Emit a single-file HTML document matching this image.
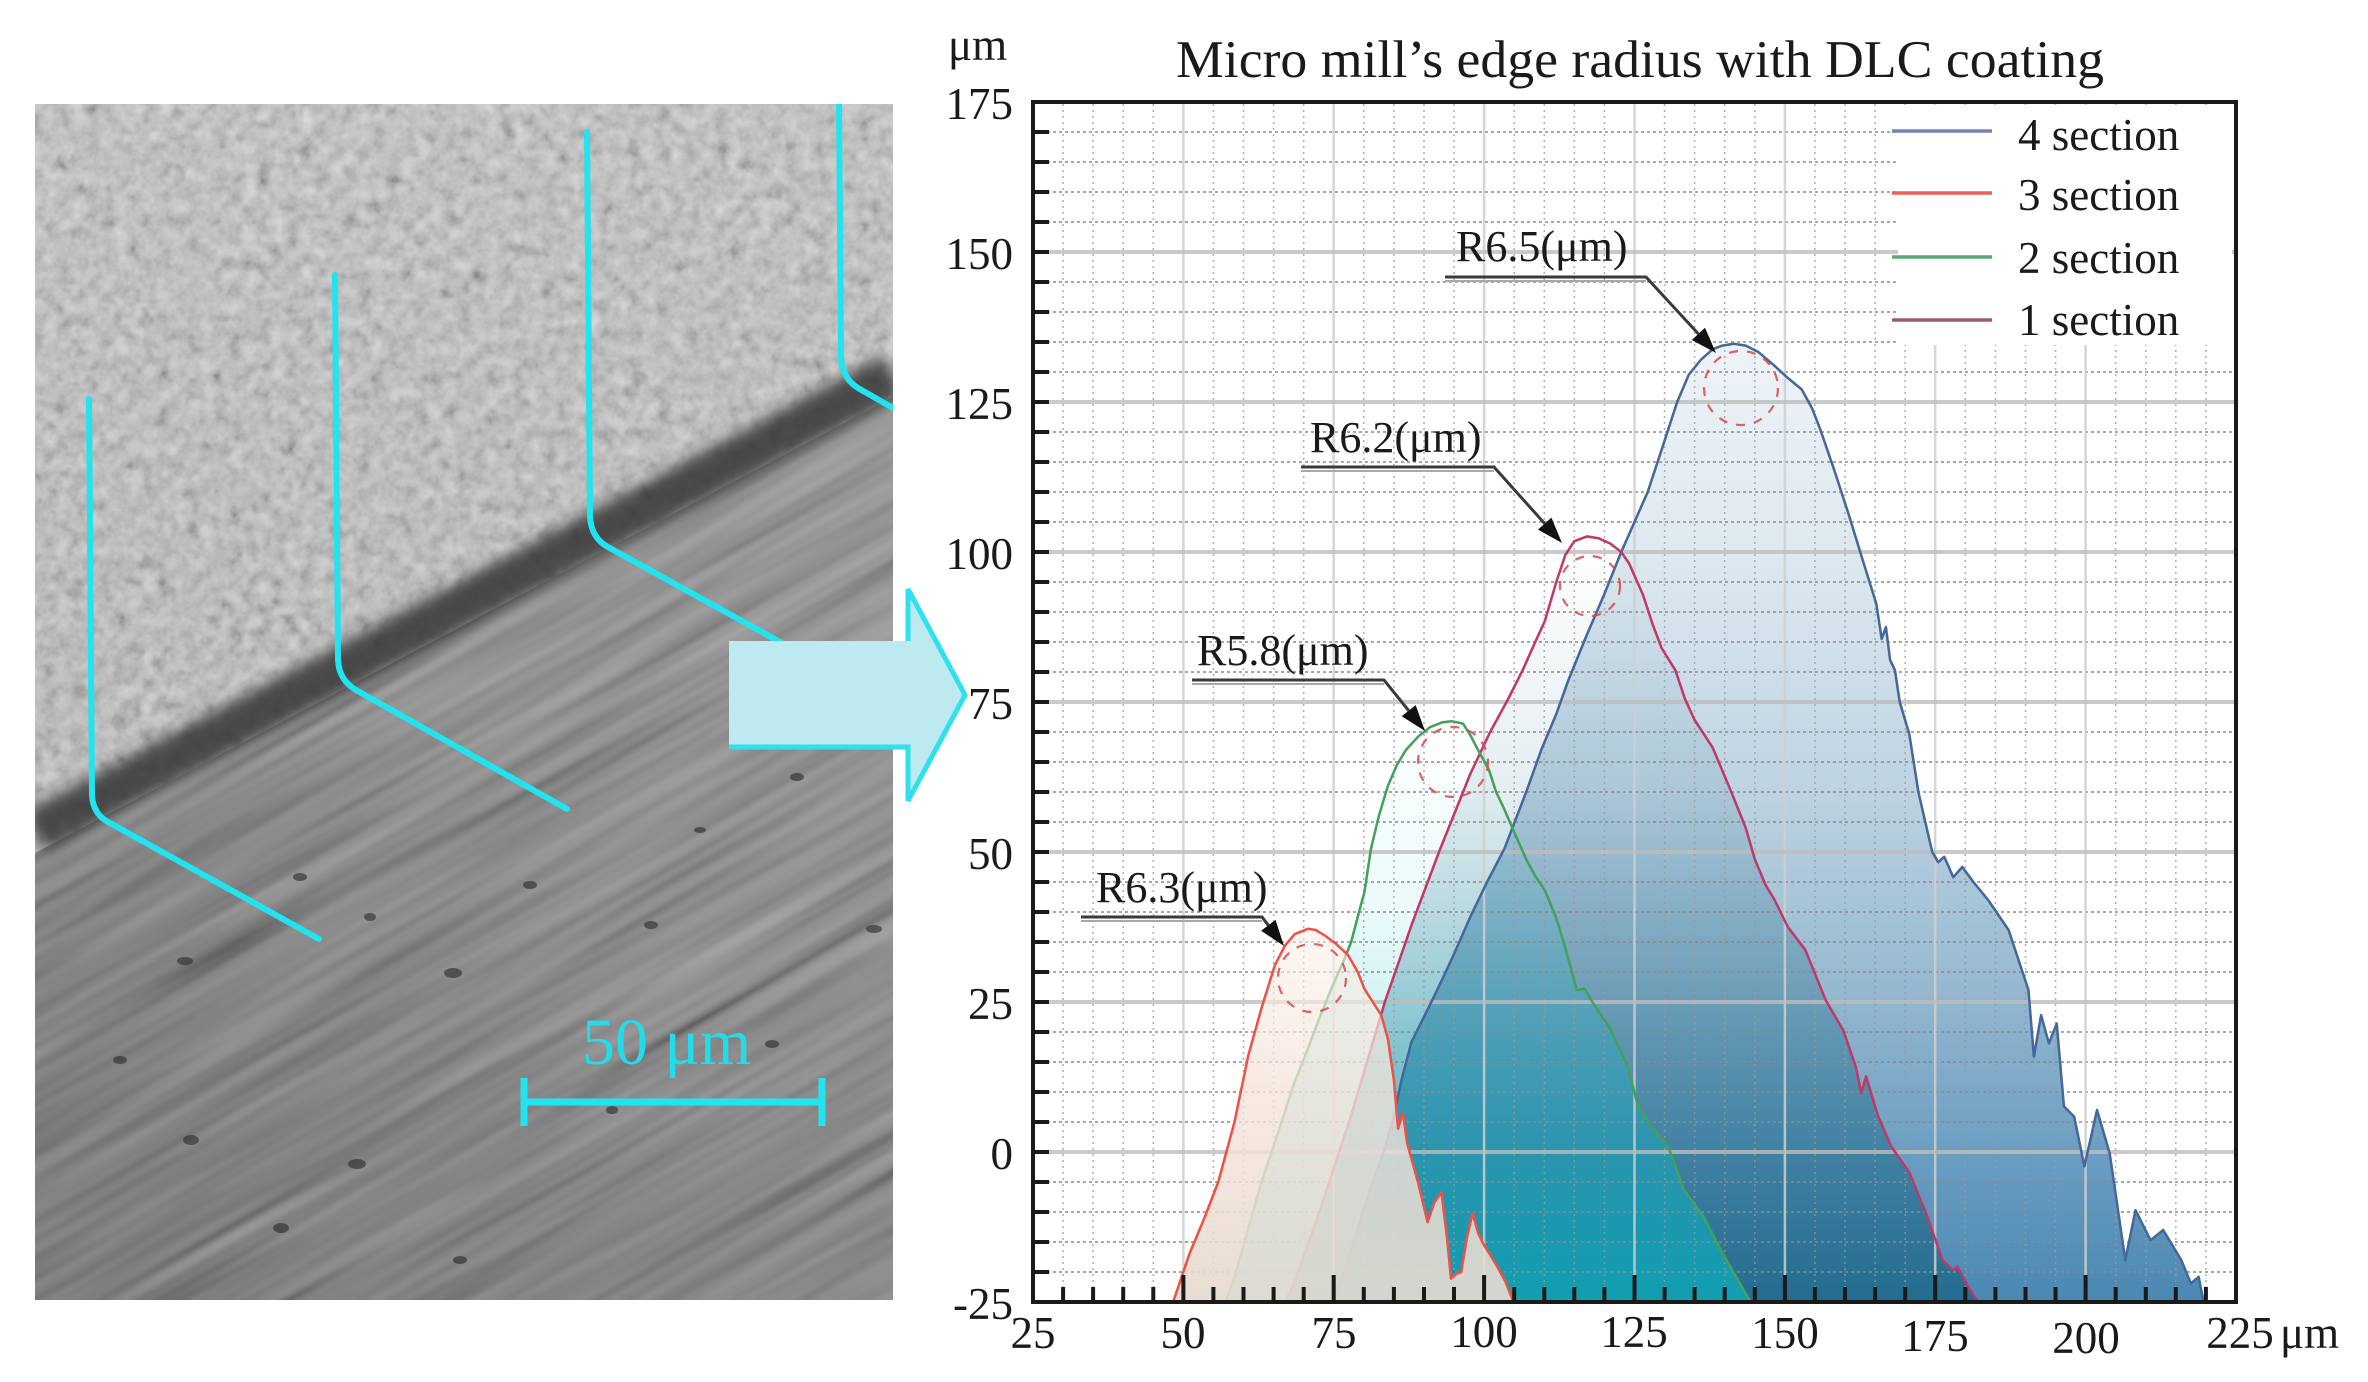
<!DOCTYPE html>
<html><head><meta charset="utf-8"><style>
html,body{margin:0;padding:0;background:#fff;width:2368px;height:1382px;overflow:hidden;}
svg{display:block;font-family:"Liberation Serif",serif;}
</style></head><body>
<svg width="2368" height="1382" viewBox="0 0 2368 1382" xmlns="http://www.w3.org/2000/svg">
<defs>
  <clipPath id="pc"><rect x="35" y="104" width="858" height="1196"/></clipPath>
  <clipPath id="upc"><polygon points="35,104 893,104 893,397 35,853"/></clipPath>
  <linearGradient id="lowG" x1="893" y1="380" x2="250" y2="1400" gradientUnits="userSpaceOnUse">
    <stop offset="0" stop-color="#8a8a8a"/><stop offset="0.5" stop-color="#747474"/><stop offset="1" stop-color="#5a5a5a"/>
  </linearGradient>
  <linearGradient id="upG" x1="0" y1="104" x2="0" y2="853" gradientUnits="userSpaceOnUse">
    <stop offset="0" stop-color="#c4c4c4"/><stop offset="1" stop-color="#b8b8b8"/>
  </linearGradient>
  <filter id="noise1" x="0" y="0" width="100%" height="100%">
    <feTurbulence type="fractalNoise" baseFrequency="0.07" numOctaves="3" seed="7"/>
    <feColorMatrix type="matrix" values="0.6 0.6 0.6 0 -0.4  0.6 0.6 0.6 0 -0.4  0.6 0.6 0.6 0 -0.4  0 0 0 0 1"/>
  </filter>
  <filter id="streak" filterUnits="userSpaceOnUse" x="-350" y="-150" width="1630" height="1700">
    <feTurbulence type="fractalNoise" baseFrequency="0.003 0.06" numOctaves="2" seed="4"/>
    <feColorMatrix type="matrix" values="0.6 0.6 0.6 0 -0.4  0.6 0.6 0.6 0 -0.4  0.6 0.6 0.6 0 -0.4  0 0 0 0 1"/>
  </filter>
  <filter id="blur6" x="-20%" y="-20%" width="140%" height="140%"><feGaussianBlur stdDeviation="7"/></filter>

  <linearGradient id="gBlue" x1="0" y1="135" x2="0" y2="-25" gradientUnits="userSpaceOnUse">
    <stop offset="0" stop-color="#eef3f7"/>
    <stop offset="0.219" stop-color="#dee9f0"/>
    <stop offset="0.469" stop-color="#bdd3e2"/>
    <stop offset="0.656" stop-color="#9abbd1"/>
    <stop offset="0.844" stop-color="#6c9ec2"/>
    <stop offset="1" stop-color="#4a88b2"/>
  </linearGradient>
  <linearGradient id="gMar" x1="0" y1="103" x2="0" y2="-25" gradientUnits="userSpaceOnUse">
    <stop offset="0" stop-color="#286e8c" stop-opacity="0"/>
    <stop offset="0.336" stop-color="#286e8c" stop-opacity="0.12"/>
    <stop offset="0.648" stop-color="#146482" stop-opacity="0.35"/>
    <stop offset="1" stop-color="#0a5a78" stop-opacity="0.6"/>
  </linearGradient>
  <linearGradient id="gGrn" x1="0" y1="72" x2="0" y2="-25" gradientUnits="userSpaceOnUse">
    <stop offset="0" stop-color="#00bec8" stop-opacity="0"/>
    <stop offset="0.33" stop-color="#00bec8" stop-opacity="0.08"/>
    <stop offset="0.742" stop-color="#00bec8" stop-opacity="0.33"/>
    <stop offset="1" stop-color="#00c8cd" stop-opacity="0.55"/>
  </linearGradient>
  <linearGradient id="gRed" x1="0" y1="37" x2="0" y2="-25" gradientUnits="userSpaceOnUse">
    <stop offset="0" stop-color="#fcf0e8" stop-opacity="0.55"/>
    <stop offset="0.435" stop-color="#f4e4da" stop-opacity="0.78"/>
    <stop offset="1" stop-color="#e6dad0" stop-opacity="0.92"/>
  </linearGradient>
</defs>

<rect width="2368" height="1382" fill="#fff"/>

<!-- ============ SEM PHOTO ============ -->
<g clip-path="url(#pc)">
  <rect x="35" y="104" width="858" height="1196" fill="url(#lowG)"/>
  <g transform="rotate(-29.3 464 702)" opacity="0.35">
    <rect x="400" y="650" width="100" height="100" filter="url(#streak)"/>
  </g>
  <g fill="#2a2a2a" opacity="0.6">
    <ellipse cx="185" cy="961" rx="8" ry="4"/>
    <ellipse cx="300" cy="877" rx="7" ry="4"/>
    <ellipse cx="453" cy="973" rx="9" ry="5"/>
    <ellipse cx="370" cy="917" rx="6" ry="4"/>
    <ellipse cx="191" cy="1140" rx="8" ry="5"/>
    <ellipse cx="357" cy="1164" rx="9" ry="5"/>
    <ellipse cx="651" cy="925" rx="7" ry="4"/>
    <ellipse cx="797" cy="777" rx="7" ry="4"/>
    <ellipse cx="874" cy="929" rx="8" ry="4"/>
    <ellipse cx="530" cy="885" rx="7" ry="4"/>
    <ellipse cx="281" cy="1228" rx="8" ry="5"/>
    <ellipse cx="772" cy="1044" rx="7" ry="4"/>
    <ellipse cx="612" cy="1110" rx="6" ry="4"/>
    <ellipse cx="120" cy="1060" rx="7" ry="4"/>
    <ellipse cx="460" cy="1260" rx="7" ry="4"/>
    <ellipse cx="700" cy="830" rx="6" ry="3"/>
  </g>
  <g clip-path="url(#upc)">
    <rect x="35" y="104" width="858" height="760" fill="url(#upG)"/>
    <rect x="35" y="104" width="858" height="760" filter="url(#noise1)" opacity="0.38"/>
  </g>
  <line x1="35" y1="832" x2="893" y2="376" stroke="#353535" stroke-width="44" filter="url(#blur6)" opacity="0.85"/>
  <g fill="none" stroke="#22e4ee" stroke-width="6" stroke-linecap="round" stroke-linejoin="round">
    <path d="M89,399 L92,795 Q93,815 110,823 L319,939"/>
    <path d="M335,275 L338,660 Q339,680 356,690 L567,809"/>
    <path d="M587,132 L590,516 Q591,538 608,547 L780,642"/>
    <path d="M839,104 L841,357 Q842,378 858,388 L893,408"/>
  </g>
  <text x="582" y="1064" font-size="66" fill="#22dcea">50 μm</text>
  <g stroke="#22e4ee" stroke-width="7" fill="none">
    <line x1="522" y1="1102" x2="822" y2="1102"/>
    <line x1="524" y1="1078" x2="524" y2="1126"/>
    <line x1="822" y1="1078" x2="822" y2="1126"/>
  </g>
</g>

<!-- big arrow -->
<path d="M729,641 L908,641 L908,589 L965,695 L908,801 L908,747 L729,747 Z" fill="#bde9f1"/>
<path d="M729,747 L908,747 L908,801 L965,695 L908,589 L908,641" fill="none" stroke="#2fe0ee" stroke-width="5" stroke-linejoin="miter"/>

<!-- ============ CHART ============ -->
<!-- fills (blue, maroon, green) -->
<g transform="matrix(6.015 0 0 -6 882.6 1152)">
  <path fill="url(#gBlue)" d="M75,-25 L78,-16 L80.5,-8 L83.5,0.6 L85,6 L86.2,11.7 L87.9,18.3 L90,22.5 L92.3,27.2 L95,33 L97.8,39.4 L100.5,45 L103.4,50.6 L104.7,54 L107,60 L109.5,67 L112,73 L114,78.6 L117,86 L120,93 L122.8,100 L125,105 L127.2,110 L129.5,117 L132.1,125 L134,129.5 L136,132 L138,133.8 L139.6,134.4 L141.5,134.7 L143.5,134.4 L145.5,133.4 L148.1,131.2 L150.5,129 L152.8,127.1 L154.5,124 L155.9,120.4 L158.2,113.7 L160.6,106.3 L162.9,98.8 L165.2,91.4 L166.1,85.5 L166.8,87.5 L167.5,82 L168.3,80.3 L169.1,75 L170.7,69.6 L172.2,60 L174.5,50 L175.5,48.3 L176.5,49.2 L178,45.8 L179.5,47.5 L181.5,44.8 L183.8,42 L187.2,37 L190.5,27 L191.4,15.9 L192.6,22.8 L193.9,18.1 L195.2,21.4 L196.4,7.6 L198.1,5.9 L199.8,-2.4 L201.9,7 L204,-0.2 L206.6,-18 L208.3,-9.7 L210.8,-14.7 L212.9,-13 L215.9,-18 L217.5,-21.9 L218.8,-20.8 L219.6,-25 Z"/>
  <path fill="url(#gMar)" d="M66.9,-25 L68.5,-21.7 L72.4,-10.6 L77.9,6.1 L83.5,25 L88,38 L92.5,50 L97.7,63 L101,70 L104,75.5 L106.5,80.5 L108.5,85 L110.1,88.5 L112,95 L113.5,99.5 L115,101.8 L117.1,102.6 L119,102.3 L121,101.4 L122.8,100 L124.1,98.1 L126.4,92.9 L128,88 L129.5,84 L131.8,80.3 L133.4,75.5 L135,72 L138,67.4 L141.1,60 L143.5,54 L145,48.8 L146.8,44.5 L148.3,42 L150.5,37.5 L153.4,33.7 L156.8,25.3 L159.7,20.3 L161.8,14.2 L162.7,9.8 L163.5,12.6 L165.5,6 L167.7,0.9 L170.7,-3.4 L173.7,-10.8 L176.2,-18 L177.9,-19.7 L178.7,-19.1 L180.5,-22.5 L182.1,-25 Z"/>
  <path fill="url(#gGrn)" d="M57,-25 L58.6,-20.6 L61,-12 L63,-5 L66,4 L68.5,11.7 L70.7,17.2 L72.5,22 L74.6,27.2 L76.5,31.5 L77.9,35 L79.2,40 L80.1,43.3 L81.2,50.6 L82.5,56 L84,61 L85.5,64.5 L87,67 L89,69.2 L91,70.8 L93,71.6 L94.6,71.8 L96.5,71.4 L97.7,69.5 L99,67 L100.8,63.7 L102,60 L103.1,57.7 L104.7,54 L107,48.8 L108.5,46 L110.1,43.6 L112,39 L113.5,34 L114.6,30 L115.4,27 L116.7,27.2 L118,25 L119.6,22.6 L121,20.5 L123.9,14.2 L125.6,7.6 L128,4 L130.6,0.9 L133.2,-6.3 L136.5,-10.8 L139.6,-16.8 L142,-21 L144.3,-25 Z"/>
</g>

<!-- grid -->
<g fill="none">
  <path stroke="#9a9a9a" stroke-width="1.6" stroke-dasharray="2 4" opacity="0.75" d="M1063.1,104V1300M1093.1,104V1300M1123.2,104V1300M1153.3,104V1300M1213.4,104V1300M1243.5,104V1300M1273.6,104V1300M1303.7,104V1300M1363.8,104V1300M1393.9,104V1300M1424,104V1300M1454,104V1300M1514.2,104V1300M1544.3,104V1300M1574.3,104V1300M1604.4,104V1300M1664.6,104V1300M1694.6,104V1300M1724.7,104V1300M1754.8,104V1300M1814.9,104V1300M1845,104V1300M1875.1,104V1300M1905.2,104V1300M1965.3,104V1300M1995.4,104V1300M2025.5,104V1300M2055.5,104V1300M2115.7,104V1300M2145.8,104V1300M2175.8,104V1300M2205.9,104V1300"/>
  <path stroke="#8a8a8a" stroke-width="2" stroke-dasharray="3 3" opacity="0.75" d="M1035,1272H2234M1035,1242H2234M1035,1212H2234M1035,1182H2234M1035,1122H2234M1035,1092H2234M1035,1062H2234M1035,1032H2234M1035,972H2234M1035,942H2234M1035,912H2234M1035,882H2234M1035,822H2234M1035,792H2234M1035,762H2234M1035,732H2234M1035,672H2234M1035,642H2234M1035,612H2234M1035,582H2234M1035,522H2234M1035,492H2234M1035,462H2234M1035,432H2234M1035,372H2234M1035,342H2234M1035,312H2234M1035,282H2234M1035,222H2234M1035,192H2234M1035,162H2234M1035,132H2234"/>
  <path stroke="#cfcfcf" stroke-width="2.5" opacity="0.85" d="M1183.4,104V1300M1333.7,104V1300M1484.1,104V1300M1634.5,104V1300M1784.9,104V1300M1935.2,104V1300M2085.6,104V1300"/>
  <path stroke="#bdbdbd" stroke-width="4" opacity="0.8" d="M1035,252H2234M1035,402H2234M1035,552H2234M1035,702H2234M1035,852H2234M1035,1002H2234M1035,1152H2234"/>
</g>

<!-- curve lines blue/maroon/green, then red fill + line on top -->
<g transform="matrix(6.015 0 0 -6 882.6 1152)" fill="none" stroke-width="0.42" stroke-linejoin="round">
  <path stroke="#45679a" d="M75,-25 L78,-16 L80.5,-8 L83.5,0.6 L85,6 L86.2,11.7 L87.9,18.3 L90,22.5 L92.3,27.2 L95,33 L97.8,39.4 L100.5,45 L103.4,50.6 L104.7,54 L107,60 L109.5,67 L112,73 L114,78.6 L117,86 L120,93 L122.8,100 L125,105 L127.2,110 L129.5,117 L132.1,125 L134,129.5 L136,132 L138,133.8 L139.6,134.4 L141.5,134.7 L143.5,134.4 L145.5,133.4 L148.1,131.2 L150.5,129 L152.8,127.1 L154.5,124 L155.9,120.4 L158.2,113.7 L160.6,106.3 L162.9,98.8 L165.2,91.4 L166.1,85.5 L166.8,87.5 L167.5,82 L168.3,80.3 L169.1,75 L170.7,69.6 L172.2,60 L174.5,50 L175.5,48.3 L176.5,49.2 L178,45.8 L179.5,47.5 L181.5,44.8 L183.8,42 L187.2,37 L190.5,27 L191.4,15.9 L192.6,22.8 L193.9,18.1 L195.2,21.4 L196.4,7.6 L198.1,5.9 L199.8,-2.4 L201.9,7 L204,-0.2 L206.6,-18 L208.3,-9.7 L210.8,-14.7 L212.9,-13 L215.9,-18 L217.5,-21.9 L218.8,-20.8 L219.6,-25"/>
  <path stroke="#c0386a" d="M66.9,-25 L68.5,-21.7 L72.4,-10.6 L77.9,6.1 L83.5,25 L88,38 L92.5,50 L97.7,63 L101,70 L104,75.5 L106.5,80.5 L108.5,85 L110.1,88.5 L112,95 L113.5,99.5 L115,101.8 L117.1,102.6 L119,102.3 L121,101.4 L122.8,100 L124.1,98.1 L126.4,92.9 L128,88 L129.5,84 L131.8,80.3 L133.4,75.5 L135,72 L138,67.4 L141.1,60 L143.5,54 L145,48.8 L146.8,44.5 L148.3,42 L150.5,37.5 L153.4,33.7 L156.8,25.3 L159.7,20.3 L161.8,14.2 L162.7,9.8 L163.5,12.6 L165.5,6 L167.7,0.9 L170.7,-3.4 L173.7,-10.8 L176.2,-18 L177.9,-19.7 L178.7,-19.1 L180.5,-22.5 L182.1,-25"/>
  <path stroke="#45a05a" d="M57,-25 L58.6,-20.6 L61,-12 L63,-5 L66,4 L68.5,11.7 L70.7,17.2 L72.5,22 L74.6,27.2 L76.5,31.5 L77.9,35 L79.2,40 L80.1,43.3 L81.2,50.6 L82.5,56 L84,61 L85.5,64.5 L87,67 L89,69.2 L91,70.8 L93,71.6 L94.6,71.8 L96.5,71.4 L97.7,69.5 L99,67 L100.8,63.7 L102,60 L103.1,57.7 L104.7,54 L107,48.8 L108.5,46 L110.1,43.6 L112,39 L113.5,34 L114.6,30 L115.4,27 L116.7,27.2 L118,25 L119.6,22.6 L121,20.5 L123.9,14.2 L125.6,7.6 L128,4 L130.6,0.9 L133.2,-6.3 L136.5,-10.8 L139.6,-16.8 L142,-21 L144.3,-25"/>
  <path fill="url(#gRed)" stroke="none" d="M48.3,-25 L51,-17 L53.5,-11 L55.8,-5 L58.5,5 L60.8,16.1 L63,24 L65.2,31.1 L66.9,34.4 L68.5,36.3 L70.7,37.2 L72,37 L73.5,36.1 L75.5,34.6 L77.4,32.8 L79,30 L80.1,27.2 L81.5,25 L82.9,22.8 L84,18.9 L85,12 L85.7,3.9 L86.5,6.5 L87.2,1.5 L89,-5 L90.6,-11.7 L91.7,-8.5 L92.9,-6.7 L93.8,-14 L94.5,-21.1 L95.4,-20.3 L96.2,-20 L97.2,-14 L98.1,-10.2 L99,-13.5 L99.8,-15.2 L100.8,-16.8 L101.9,-18.6 L103.5,-21.5 L104.9,-25 Z"/>
  <path stroke="#ee5246" d="M48.3,-25 L51,-17 L53.5,-11 L55.8,-5 L58.5,5 L60.8,16.1 L63,24 L65.2,31.1 L66.9,34.4 L68.5,36.3 L70.7,37.2 L72,37 L73.5,36.1 L75.5,34.6 L77.4,32.8 L79,30 L80.1,27.2 L81.5,25 L82.9,22.8 L84,18.9 L85,12 L85.7,3.9 L86.5,6.5 L87.2,1.5 L89,-5 L90.6,-11.7 L91.7,-8.5 L92.9,-6.7 L93.8,-14 L94.5,-21.1 L95.4,-20.3 L96.2,-20 L97.2,-14 L98.1,-10.2 L99,-13.5 L99.8,-15.2 L100.8,-16.8 L101.9,-18.6 L103.5,-21.5 L104.9,-25"/>
</g>

<!-- dashed circles -->
<g fill="none" stroke="#d84848" stroke-width="2.2" stroke-dasharray="9 9" opacity="0.85">
  <circle cx="1741" cy="388" r="37"/>
  <circle cx="1590" cy="586" r="30"/>
  <circle cx="1453" cy="762" r="35"/>
  <circle cx="1312" cy="978" r="34"/>
</g>

<!-- ticks -->
<g stroke="#1a1a1a" stroke-width="4" fill="none">
  <path d="M1033,1272h16M1033,1242h16M1033,1212h16M1033,1182h16M1033,1152h16M1033,1122h16M1033,1092h16M1033,1062h16M1033,1032h16M1033,1002h16M1033,972h16M1033,942h16M1033,912h16M1033,882h16M1033,852h16M1033,822h16M1033,792h16M1033,762h16M1033,732h16M1033,702h16M1033,672h16M1033,642h16M1033,612h16M1033,582h16M1033,552h16M1033,522h16M1033,492h16M1033,462h16M1033,432h16M1033,402h16M1033,372h16M1033,342h16M1033,312h16M1033,282h16M1033,252h16M1033,222h16M1033,192h16M1033,162h16M1033,132h16"/>
  <path d="M1063.1,1302v-15M1093.1,1302v-15M1123.2,1302v-15M1153.3,1302v-15M1213.4,1302v-15M1243.5,1302v-15M1273.6,1302v-15M1303.7,1302v-15M1363.8,1302v-15M1393.9,1302v-15M1424,1302v-15M1454,1302v-15M1514.2,1302v-15M1544.3,1302v-15M1574.3,1302v-15M1604.4,1302v-15M1664.6,1302v-15M1694.6,1302v-15M1724.7,1302v-15M1754.8,1302v-15M1814.9,1302v-15M1845,1302v-15M1875.1,1302v-15M1905.2,1302v-15M1965.3,1302v-15M1995.4,1302v-15M2025.5,1302v-15M2055.5,1302v-15M2115.7,1302v-15M2145.8,1302v-15M2175.8,1302v-15M2205.9,1302v-15"/>
  <path d="M1183.4,1302v-27M1333.7,1302v-27M1484.1,1302v-27M1634.5,1302v-27M1784.9,1302v-27M1935.2,1302v-27M2085.6,1302v-27"/>
</g>

<!-- legend -->
<rect x="1898" y="105" width="334" height="240" fill="#fff"/>
<g stroke-width="3.5">
  <line x1="1892" y1="131" x2="1992" y2="131" stroke="#7088b8"/>
  <line x1="1892" y1="193" x2="1992" y2="193" stroke="#f06058"/>
  <line x1="1892" y1="257" x2="1992" y2="257" stroke="#5aa872"/>
  <line x1="1892" y1="320" x2="1992" y2="320" stroke="#a05a70"/>
</g>
<g font-size="45" fill="#1a1a1a">
  <text x="2018" y="150">4 section</text>
  <text x="2018" y="210">3 section</text>
  <text x="2018" y="273">2 section</text>
  <text x="2018" y="335">1 section</text>
</g>

<!-- frame -->
<rect x="1033" y="102" width="1203" height="1200" fill="none" stroke="#1a1a1a" stroke-width="4"/>

<!-- annotations -->
<g font-size="44" fill="#1a1a1a">
  <text x="1456" y="261">R6.5(μm)</text>
  <text x="1310" y="452">R6.2(μm)</text>
  <text x="1197" y="665">R5.8(μm)</text>
  <text x="1096" y="902">R6.3(μm)</text>
</g>
<g stroke="#a8a8a8" stroke-width="2">
  <line x1="1445" y1="281" x2="1646" y2="281"/>
  <line x1="1301" y1="471" x2="1494" y2="471"/>
  <line x1="1192" y1="684" x2="1384" y2="684"/>
  <line x1="1081" y1="921" x2="1262" y2="921"/>
</g>
<g stroke="#3a3a3a" stroke-width="3" fill="none">
  <polyline points="1445,277 1646,277 1698.4,333.9"/>
  <polyline points="1301,467 1494,467 1544.7,523.6"/>
  <polyline points="1192,680 1384,680 1408.7,710.7"/>
  <polyline points="1081,917 1262,917 1268.3,925.3"/>
</g>
<g fill="#111">
  <polygon points="1716,353 1691.8,340 1705,327.8"/>
  <polygon points="1562,543 1538,529.6 1551.4,517.6"/>
  <polygon points="1425,731 1401.7,716.3 1415.7,705.1"/>
  <polygon points="1284,946 1261.1,930.7 1275.5,919.9"/>
</g>

<!-- axis labels -->
<g font-size="45" fill="#1a1a1a">
  <text x="948" y="60">μm</text>
  <text x="1176" y="77" font-size="53" textLength="928" lengthAdjust="spacingAndGlyphs">Micro mill’s edge radius with DLC coating</text>
  <g text-anchor="end">
    <text x="1013" y="119">175</text>
    <text x="1013" y="269">150</text>
    <text x="1013" y="419">125</text>
    <text x="1013" y="569">100</text>
    <text x="1013" y="719">75</text>
    <text x="1013" y="869">50</text>
    <text x="1013" y="1019">25</text>
    <text x="1013" y="1169">0</text>
    <text x="1013" y="1319">-25</text>
  </g>
  <g text-anchor="middle">
    <text x="1033" y="1348">25</text>
    <text x="1183" y="1348">50</text>
    <text x="1334" y="1348">75</text>
    <text x="1484" y="1347">100</text>
    <text x="1634" y="1347">125</text>
    <text x="1785" y="1348">150</text>
    <text x="1935" y="1351">175</text>
    <text x="2086" y="1353">200</text>
    <text x="2240" y="1348">225</text>
  </g>
  <text x="2280" y="1348">μm</text>
</g>
</svg>
</body></html>
